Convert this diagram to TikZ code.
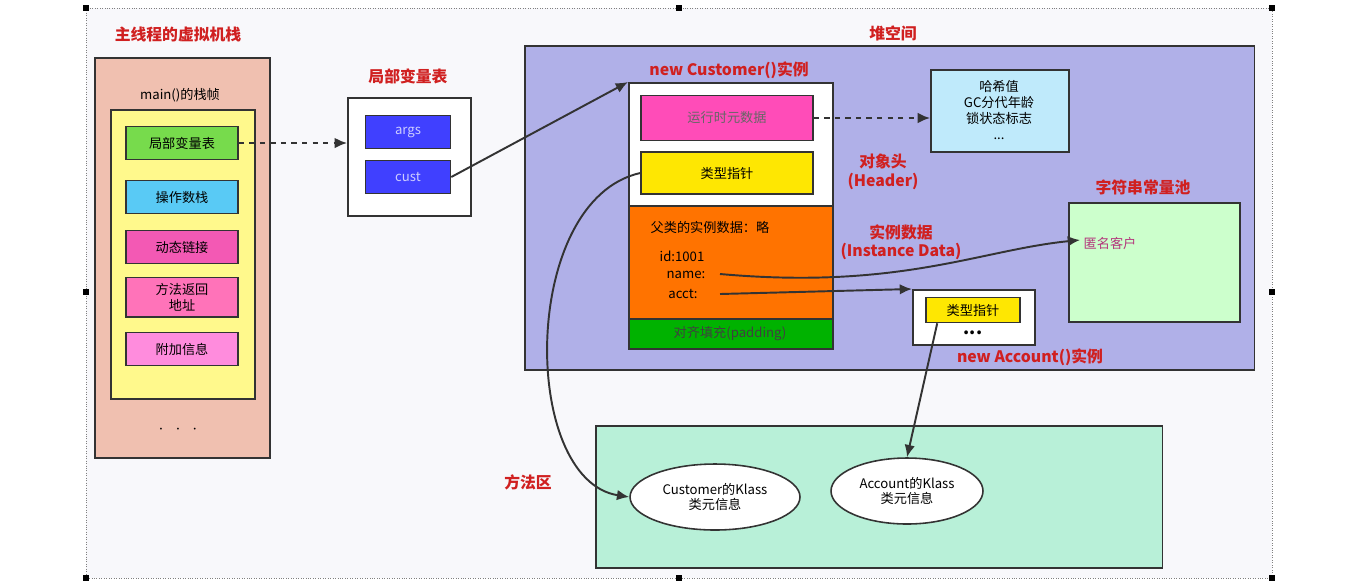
\documentclass[tikz,border=0pt]{standalone}
\usepackage{fontspec}
\setmainfont{Noto Sans CJK SC}
\usetikzlibrary{shapes.geometric, arrows.meta, positioning, calc}
\definecolor{stackbg}{HTML}{F0C0B0}
\definecolor{framebg}{HTML}{F8F8FB}
\definecolor{heapbg}{HTML}{B0B0E8}
\definecolor{methbg}{HTML}{B8F0D8}
\definecolor{titlered}{HTML}{D02020}
\begin{document}
\begin{tikzpicture}[x=0.02cm, y=-0.02cm,
    font=\fontsize{7.5}{9}\selectfont,
    box/.style={draw=black!80, line width=0.9pt, anchor=north west, inner sep=0pt},
    slot/.style={draw=black!80, line width=0.9pt, minimum width=2.24cm, minimum height=0.66cm, align=center},
    title/.style={text=titlered, font=\fontsize{9}{10.5}\selectfont\bfseries, align=center},
    link/.style={-{Latex[length=7pt,width=6pt]}, line width=1.1pt, draw=black!80}]
    \useasboundingbox (0,0) rectangle (1364,586);

    % outer frame
    \draw[densely dotted, gray, fill=framebg] (86,8) rectangle (1272,578);
    \foreach \p in {(86,8),(679,8),(1272,8),(86,292),(1272,292),(86,578),(679,578),(1272,578)}
        \fill \p +(-3,-3) rectangle +(3,3);

    % stack
    \node[title] (stacklbl) at (178,34) {主线程的虚拟机栈};
    \node[box, fill=stackbg, minimum width=3.5cm, minimum height=8cm] (stack) at (94,57) {};
    \node (framelbl) at (180,95) {main()的栈帧};
    \node[box, fill=yellow!45, minimum width=2.88cm, minimum height=5.78cm] (frame) at (110,109) {};
    \node[slot, fill=green!60!lime!80!black!70] (locals) at (182,143) {局部变量表};
    \node[slot, fill=cyan!65] (ops) at (182,197) {操作数栈};
    \node[slot, fill=magenta!65] (dyn) at (182,247) {动态链接};
    \node[slot, fill=red!50!magenta!55, minimum height=0.76cm] (ret) at (182,297) {方法返回\\地址};
    \node[slot, fill=red!30!magenta!45] (extra) at (182,349) {附加信息};
    \node[font=\bfseries] (dots) at (178,430) {$\cdot\ \ \cdot\ \ \cdot$};

    % local variable table
    \node[title] (tbllbl) at (408,76) {局部变量表};
    \node[box, fill=white, minimum width=2.46cm, minimum height=2.36cm] (tbl) at (347,97) {};
    \node[slot, fill=blue!75, text=white!80!blue, minimum width=1.7cm] (args) at (408,132) {args};
    \node[slot, fill=blue!75, text=white!80!blue, minimum width=1.7cm] (cust) at (408,177) {cust};

    % heap
    \node[title] (heaplbl) at (893,33) {堆空间};
    \node[box, fill=heapbg, minimum width=14.6cm, minimum height=6.48cm] (heap) at (524,45) {};
    \node[title] (custlbl) at (729,70) {new Customer()实例};
    \node[box, fill=white, minimum width=4.08cm, minimum height=2.46cm] (hdr) at (628,82) {};
    \node[slot, fill=red!40!magenta!70, minimum width=3.44cm, minimum height=0.9cm, text=black!60] (meta) at (727,118) {运行时元数据};
    \node[slot, fill=yellow!90!orange, minimum width=3.44cm, minimum height=0.84cm] (kptr) at (727,173) {类型指针};
    \node[box, fill=orange!90!red, minimum width=4.08cm, minimum height=2.26cm] (inst) at (628,205) {};
    \node[box, fill=green!70!black, minimum width=4.08cm, minimum height=0.6cm] (pad) at (628,318) {};
    \node[text=black!75] (padtxt) at (730,334) {对齐填充(padding)};
    \node (super) at (710,227) {父类的实例数据：略};
    \node (idf) at (682,256) {id:1001};
    \node (namef) at (686,275) {name:};
    \node (acctf) at (683,294) {acct:};
    \coordinate (nameend) at (720,274);
    \coordinate (acctend) at (720,294);
    \node[title] (hdrlbl) at (883,172) {对象头\\(Header)};
    \node[title] (instlbl) at (901,242) {实例数据\\(Instance Data)};

    \node[box, fill=cyan!25, minimum width=2.76cm, minimum height=1.64cm] (mark) at (930,69) {};
    \node[align=center] (marktxt) at (999,110) {哈希值\\GC分代年龄\\锁状态标志\\...};

    \node[title] (poollbl) at (1143,187) {字符串常量池};
    \node[box, fill=green!20, minimum width=3.42cm, minimum height=2.38cm] (pool) at (1068,202) {};
    \node[text=magenta!70!black] (anon) at (1110,243) {匿名客户};
    \coordinate (anonin) at (1080,240);

    \node[box, fill=white, minimum width=2.44cm, minimum height=1.1cm] (acc) at (912,289) {};
    \node[slot, fill=yellow!90!orange, minimum width=1.88cm, minimum height=0.5cm] (aptr) at (973,310) {类型指针};
    \node[font=\bfseries] (adots) at (973,333) {...};
    \node[title] (acclbl) at (1030,357) {new Account()实例};

    % method area
    \node[title] (methlbl) at (528,482) {方法区};
    \node[box, fill=methbg, minimum width=11.34cm, minimum height=2.84cm] (meth) at (595,425) {};
    \node[ellipse, draw=black!80, line width=0.9pt, fill=white, minimum width=3.4cm, minimum height=1.32cm, align=center] (custk) at (715,497) {Customer的Klass\\类元信息};
    \node[ellipse, draw=black!80, line width=0.9pt, fill=white, minimum width=3.04cm, minimum height=1.32cm, align=center] (acck) at (907,491) {Account的Klass\\类元信息};

    % connectors
    \draw[link, dashed] (locals.east) -- (tbl.west |- locals);
    \draw[link, dashed] (meta.east) -- (mark.west |- meta);
    \draw[link] (cust.east) -- (hdr.north west);
    \draw[link] (nameend) .. controls (900,290) and (980,250) .. (anonin);
    \draw[link] (acctend) -- (acc.north west);
    \draw[link] (kptr.west) .. controls (520,200) and (520,480) .. (custk.west);
    \draw[link] (aptr.south west) ++(12,0) coordinate (aptrs) -- (acck.north);
\end{tikzpicture}
\end{document}
